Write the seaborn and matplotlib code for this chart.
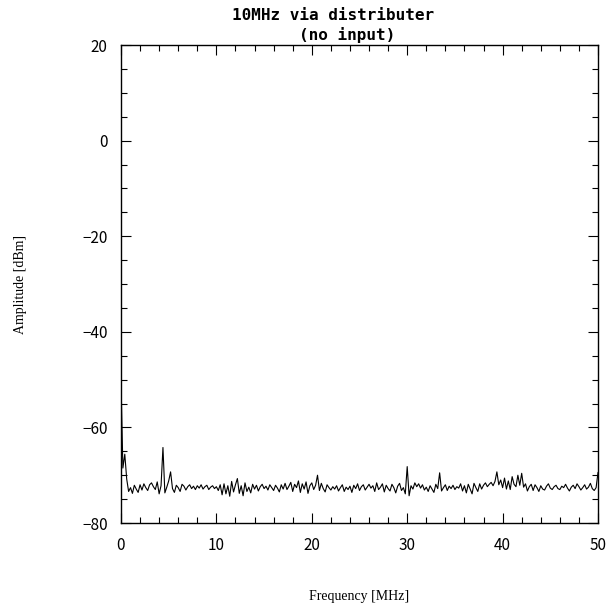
import numpy as np
import pandas as pd
import matplotlib
matplotlib.use("Agg")
import matplotlib.pyplot as plt
import seaborn as sns
from matplotlib.ticker import MultipleLocator

# ============================================================================
# DATA: spectrum trace (0.2 MHz steps, 0..50 MHz)
# ============================================================================

title_lines = ["10MHz via distributer", "(no input)"]
x_label = "Frequency [MHz]"
y_label = "Amplitude [dBm]"

amplitude_dbm = [
    -50.0, -68.5, -65.6, -70.8, -73.4, -72.6, -73.8, -72.1, -72.9, -73.6,
    -72.0, -73.1, -71.8, -72.6, -73.2, -72.0, -71.6, -72.4, -73.0, -71.4,
    -73.9, -72.2, -64.2, -73.7, -72.5, -71.2, -69.3, -72.8, -73.6, -72.1,
    -72.6, -73.4, -71.9, -72.3, -73.1, -72.4, -72.0, -72.8, -72.3, -73.0,
    -72.2, -72.7, -72.0, -72.9, -72.4, -72.1, -73.0, -72.5, -72.2, -72.8,
    -72.4, -73.2, -72.0, -74.1, -71.8, -73.9, -72.2, -74.4, -71.3, -73.5,
    -72.0, -70.7, -73.8, -72.2, -74.3, -71.6, -73.4, -72.5, -73.7, -71.9,
    -72.9, -72.1, -73.3, -72.4, -71.9, -72.8, -72.3, -73.1, -72.0, -72.6,
    -73.2, -72.1, -72.7, -73.5, -72.0, -72.9, -71.7, -73.0, -72.3, -71.5,
    -73.4, -71.9, -72.6, -71.2, -73.6, -71.8, -72.9, -71.4, -73.8, -72.2,
    -71.6, -73.0, -72.1, -70.0, -73.2, -71.7, -72.8, -73.5, -72.0, -72.6,
    -73.1, -72.4, -72.9, -72.2, -73.3, -72.6, -72.0, -73.4, -72.5, -73.0,
    -72.3, -73.6, -72.1, -72.8, -71.8, -73.2, -72.4, -72.0, -73.1, -72.5,
    -71.9, -72.7, -72.2, -73.4, -71.6, -73.0, -72.5, -71.8, -73.5, -72.1,
    -72.8, -73.3, -71.9, -72.6, -73.7, -72.3, -71.7, -73.2, -72.6, -73.9,
    -68.2, -74.3, -72.2, -72.9, -71.6, -72.4, -71.8, -72.7, -72.0, -73.1,
    -72.5, -73.4, -72.2, -72.9, -73.6, -71.9, -72.8, -69.5, -73.3, -72.6,
    -72.0, -73.2, -72.3, -72.8, -72.1, -73.0, -72.4, -72.7, -71.8, -73.3,
    -72.2, -73.7, -71.9, -72.9, -73.9, -71.7, -72.6, -73.4, -71.8, -72.9,
    -72.1, -71.6, -72.4, -71.9, -71.5, -72.2, -71.3, -69.3, -72.0, -71.0,
    -72.6, -70.6, -72.9, -71.2, -73.0, -70.3, -71.9, -72.4, -70.0, -72.1,
    -69.6, -72.5, -71.8, -73.3, -72.4, -71.9, -73.2, -72.0, -72.6, -73.4,
    -72.2, -72.9, -73.1, -72.3, -71.8, -72.7, -73.0, -72.4, -72.1, -72.8,
    -73.0, -72.3, -72.6, -71.9, -72.7, -73.3, -72.5, -72.1, -72.8, -71.8,
    -72.4, -73.1, -72.6, -72.0, -72.9, -72.5, -71.7, -72.8, -73.2, -72.6,
    -69.4,
]
freq_mhz = np.linspace(0, 50, len(amplitude_dbm))

df = pd.DataFrame({"freq": freq_mhz, "amp": amplitude_dbm})

# ============================================================================
# STYLE
# ============================================================================

sns.set_theme(style="ticks")
plt.rcParams["font.family"] = ["Noto Sans CJK JP", "DejaVu Sans"]
plt.rcParams["axes.unicode_minus"] = True

fig = plt.figure(figsize=(6.07, 6.09), dpi=100)
ax = fig.add_axes([0.1993, 0.1412, 0.7859, 0.7849])

sns.lineplot(data=df, x="freq", y="amp", color="black", lw=0.8,
             estimator=None, ax=ax)

ax.set_xlim(0, 50)
ax.set_ylim(-80, 20)
ax.xaxis.set_major_locator(MultipleLocator(10))
ax.xaxis.set_minor_locator(MultipleLocator(2))
ax.yaxis.set_major_locator(MultipleLocator(20))
ax.yaxis.set_minor_locator(MultipleLocator(5))
ax.tick_params(which="both", top=True, right=True, direction="in",
               color="black", labelcolor="black", width=0.8, labelsize=11)
ax.tick_params(which="major", length=7)
ax.tick_params(which="minor", length=4)
ax.tick_params(axis="y", pad=9.5)
ax.tick_params(axis="x", pad=10)
for sp in ax.spines.values():
    sp.set_color("black")
    sp.set_linewidth(1.0)

# two title lines, each centred where the reference has it
fig.text(333 / 607, 1 - 15 / 609, title_lines[0], family="DejaVu Sans Mono",
         fontweight="bold", fontsize=11.5, color="black",
         ha="center", va="center")
fig.text(347 / 607, 1 - 35 / 609, title_lines[1], family="DejaVu Sans Mono",
         fontweight="bold", fontsize=11.5, color="black",
         ha="center", va="center")

ax.set_xlabel(x_label, family="Liberation Serif", fontsize=10, color="black")
ax.set_ylabel(y_label, family="Liberation Serif", fontsize=10, color="black")
ax.xaxis.set_label_coords(0.5, -0.14)
ax.yaxis.set_label_coords(-0.197, 0.5)

fig.savefig("out.png", dpi=100, facecolor="white")
